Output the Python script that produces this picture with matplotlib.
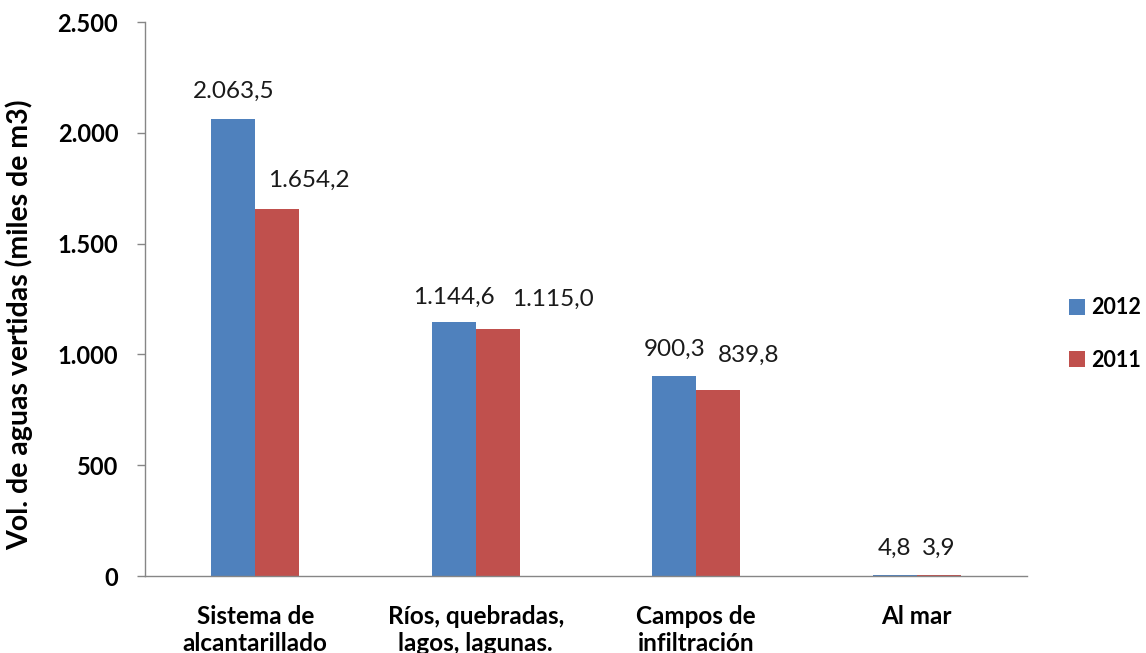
import matplotlib
matplotlib.use("Agg")
import matplotlib.pyplot as plt
import numpy as np

categories = ["Sistema de\nalcantarillado", "Ríos, quebradas,\nlagos, lagunas.",
              "Campos de\ninfiltración", "Al mar"]
vals_2012 = [2063.5, 1144.6, 900.3, 4.8]
vals_2011 = [1654.2, 1115.0, 839.8, 3.9]
series_names = ["2012", "2011"]
y_ticks = [0, 500, 1000, 1500, 2000, 2500]

# label nudges in pixels (the original labels were dragged around a bit)
dx_2012 = [0, 0, 0, 0]
dy_2012 = [27, 25, 27, 27]
dx_2011 = [32, 55, 30, 0]
dy_2011 = [29, 30, 35, 27]

BLUE = "#4F81BD"
RED = "#C0504D"
GREY = "#868686"
plt.rcParams['font.family'] = ['Lato', 'DejaVu Sans']


def fmt(v, dec=1):
    s = f"{v:,.{dec}f}"
    return s.replace(",", "X").replace(".", ",").replace("X", ".")


fig = plt.figure(figsize=(11.46, 6.53), dpi=100)
ax = fig.add_axes([145 / 1146, 77 / 653, (1027 - 145) / 1146, (576 - 22) / 653])

x = np.arange(len(categories))
w = 0.2
b1 = ax.bar(x - w / 2, vals_2012, w, color=BLUE, label=series_names[0])
b2 = ax.bar(x + w / 2, vals_2011, w, color=RED, label=series_names[1])

px = 72 / fig.dpi
for bars, vals, dxs, dys in ((b1, vals_2012, dx_2012, dy_2012), (b2, vals_2011, dx_2011, dy_2011)):
    for rect, v, dx, dy in zip(bars, vals, dxs, dys):
        ax.annotate(fmt(v), (rect.get_x() + rect.get_width() / 2, v),
                    xytext=(dx * px, dy * px), textcoords="offset points",
                    ha="center", va="center", fontsize=17.5, color="#1a1a1a")

ax.set_xlim(-0.5, len(categories) - 0.5)
ax.set_ylim(0, 2500)
ax.set_yticks(y_ticks)
ax.set_yticklabels([fmt(t, 0) for t in y_ticks], fontsize=17, fontweight="bold")
ax.set_xticks(x)
ax.set_xticklabels(categories, fontsize=17.5, fontweight="bold", linespacing=1.2)
ax.tick_params(axis="x", length=0, pad=21)
ax.tick_params(axis="y", length=8 * px, width=1, color=GREY, pad=13.5)

for s in ("top", "right"):
    ax.spines[s].set_visible(False)
for s in ("left", "bottom"):
    ax.spines[s].set_color(GREY)
    ax.spines[s].set_linewidth(1)

ax.set_ylabel("Vol. de aguas vertidas (miles de m3)", fontsize=20.5, fontweight="bold")
ax.yaxis.set_label_coords((33 - 145) / 882, (576 - 325) / 554)

leg = ax.legend(loc="center left", bbox_to_anchor=(1069 / 1146, 1 - 334 / 653),
                bbox_transform=fig.transFigure, frameon=False, borderpad=0,
                borderaxespad=0, handlelength=0.75, handleheight=0.75, handletextpad=0.3,
                labelspacing=1.45, prop={"size": 15.5, "weight": "bold"})

fig.savefig("out.png", dpi=100)
